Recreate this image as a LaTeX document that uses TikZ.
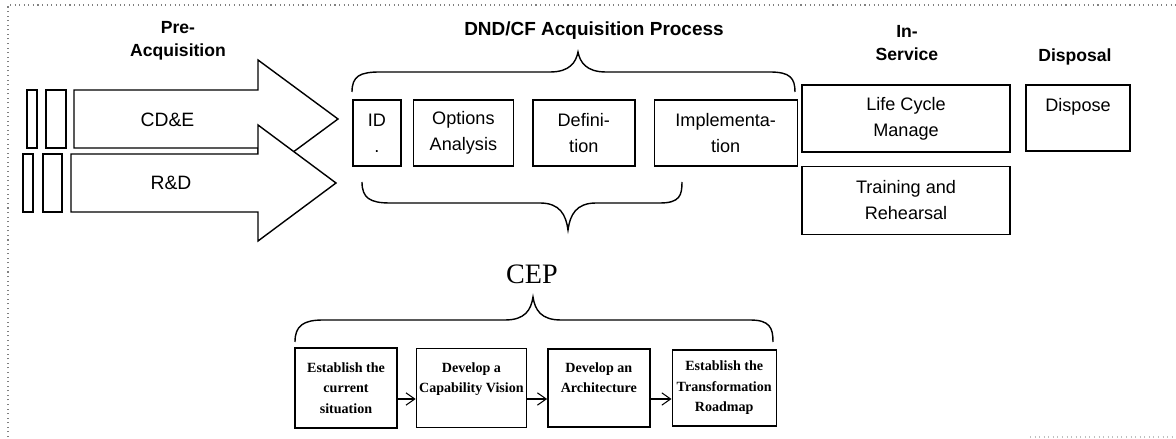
\documentclass[tikz,border=0pt]{standalone}
\usepackage{fontspec}
\setmainfont{Liberation Sans}
\newfontfamily\cepserif{Liberation Serif}
\usetikzlibrary{positioning,arrows.meta}

\tikzset{
  stage/.style={draw, line width=0.8pt, fill=white, align=center, inner sep=0pt,
    font=\fontsize{10.3}{14.7}\selectfont},
  cepbox/.style={draw, line width=0.8pt, fill=white, align=center, inner sep=0pt,
    font=\cepserif\bfseries\fontsize{8}{11.6}\selectfont},
  phase/.style={align=center, font=\bfseries\fontsize{10}{13}\selectfont},
  bigarrow/.style={draw, line width=0.8pt, fill=white, line join=miter},
  bracepath/.style={line width=0.8pt},
  flow/.style={line width=0.6pt, -{Straight Barb[length=5pt,width=7pt]}}
}

\begin{document}
\begin{tikzpicture}

                \useasboundingbox (0,0) rectangle (23.52,-8.78);

                % Frame
                \draw[gray, dotted, line width=0.6pt] (0.16,-8.74) -- (0.16,-0.10) -- (23.52,-0.10);
                \draw[gray!50, dotted, line width=0.6pt] (20.6,-8.74) -- (23.52,-8.74);

                % Pre-acquisition arrows
                \draw[bigarrow] (1.48,-1.80) -- (5.16,-1.80) -- (5.16,-1.20) -- (6.76,-2.38)
                    -- (5.16,-3.56) -- (5.16,-2.96) -- (1.48,-2.96) -- cycle;
                \node[font=\fontsize{11}{13}\selectfont] (cde) at (3.35,-2.40) {CD\&E};
                \draw[bigarrow] (1.42,-3.08) -- (5.16,-3.08) -- (5.16,-2.50) -- (6.72,-3.66)
                    -- (5.16,-4.82) -- (5.16,-4.24) -- (1.42,-4.24) -- cycle;
                \node[font=\fontsize{11}{13}\selectfont] (rd) at (3.42,-3.66) {R\&D};

                \draw[line width=0.8pt] (0.54,-1.80) rectangle (0.74,-2.96);
                \draw[line width=0.8pt] (0.92,-1.80) rectangle (1.32,-2.96);
                \draw[line width=0.8pt] (0.46,-3.08) rectangle (0.66,-4.24);
                \draw[line width=0.8pt] (0.86,-3.08) rectangle (1.24,-4.24);

                % Phase titles
                \node[phase] (pre) at (3.56,-0.81) {Pre-\\Acquisition};
                \node[phase, font=\bfseries\fontsize{10.8}{13}\selectfont] (dnd) at (11.88,-0.62) {DND/CF Acquisition Process};
                \node[phase] (inservice) at (18.14,-0.86) {In-\\Service};
                \node[phase] (disposal) at (21.50,-1.14) {Disposal};

                % Acquisition process
                \node[stage, minimum width=0.96cm, minimum height=1.32cm] (id) at (7.54,-2.66) {ID\\.};
                \node[stage, minimum width=2.00cm, minimum height=1.32cm, right=0.22cm of id] (options) {Options\\Analysis};
                \node[stage, minimum width=2.04cm, minimum height=1.32cm, right=0.36cm of options] (definition) {Defini-\\tion};
                \node[stage, minimum width=2.86cm, minimum height=1.32cm, right=0.36cm of definition] (implementation) {Implementa-\\tion};

                % In-service and disposal
                \node[stage, minimum width=4.16cm, minimum height=1.34cm] (lifecycle) at (18.12,-2.37) {Life Cycle\\Manage};
                \node[stage, minimum width=4.16cm, minimum height=1.36cm, below=0.26cm of lifecycle] (training) {Training and\\Rehearsal};
                \node[stage, minimum width=2.08cm, minimum height=1.32cm] (dispose) at (21.56,-2.36) {Dispose\\~};

                % Braces
                \draw[bracepath] (7.04,-1.84) .. controls (7.04,-1.52) and (7.20,-1.44) .. (7.60,-1.44) -- (11.00,-1.44)
                    .. controls (11.40,-1.44) and (11.52,-1.24) .. (11.56,-1.04)
                    .. controls (11.60,-1.24) and (11.72,-1.44) .. (12.12,-1.44) -- (15.40,-1.44)
                    .. controls (15.80,-1.44) and (15.90,-1.56) .. (15.90,-1.84);
                \draw[bracepath] (7.24,-3.64) .. controls (7.24,-3.96) and (7.40,-4.06) .. (7.80,-4.06) -- (10.80,-4.06)
                    .. controls (11.20,-4.06) and (11.32,-4.30) .. (11.36,-4.60)
                    .. controls (11.40,-4.30) and (11.52,-4.06) .. (11.92,-4.06) -- (13.20,-4.06)
                    .. controls (13.60,-4.06) and (13.64,-3.90) .. (13.64,-3.64);
                \draw[bracepath] (5.90,-6.84) .. controls (5.90,-6.52) and (6.06,-6.40) .. (6.46,-6.40) -- (10.10,-6.40)
                    .. controls (10.50,-6.40) and (10.62,-6.20) .. (10.66,-5.94)
                    .. controls (10.70,-6.20) and (10.82,-6.40) .. (11.22,-6.40) -- (15.00,-6.40)
                    .. controls (15.40,-6.40) and (15.46,-6.56) .. (15.46,-6.84);

                % CEP
                \node[font=\cepserif\fontsize{16}{18}\selectfont] (cep) at (10.64,-5.48) {CEP};
                \node[cepbox, minimum width=2.04cm, minimum height=1.60cm] (current) at (6.92,-7.76) {Establish the\\current\\situation};
                \node[cepbox, minimum width=2.20cm, minimum height=1.58cm, right=0.36cm of current] (vision) {Develop a\\Capability Vision\\~};
                \node[cepbox, minimum width=2.04cm, minimum height=1.56cm, right=0.40cm of vision] (architecture) {Develop an\\Architecture\\~};
                \node[cepbox, minimum width=2.08cm, minimum height=1.52cm, right=0.42cm of architecture] (roadmap) {Establish the\\Transformation\\Roadmap};

                \draw[flow] ([yshift=-0.22cm]current.east) -- ([yshift=-0.22cm]vision.west);
                \draw[flow] ([yshift=-0.22cm]vision.east) -- ([yshift=-0.22cm]architecture.west);
                \draw[flow] ([yshift=-0.22cm]architecture.east) -- ([yshift=-0.22cm]roadmap.west);

            \end{tikzpicture}
\end{document}
